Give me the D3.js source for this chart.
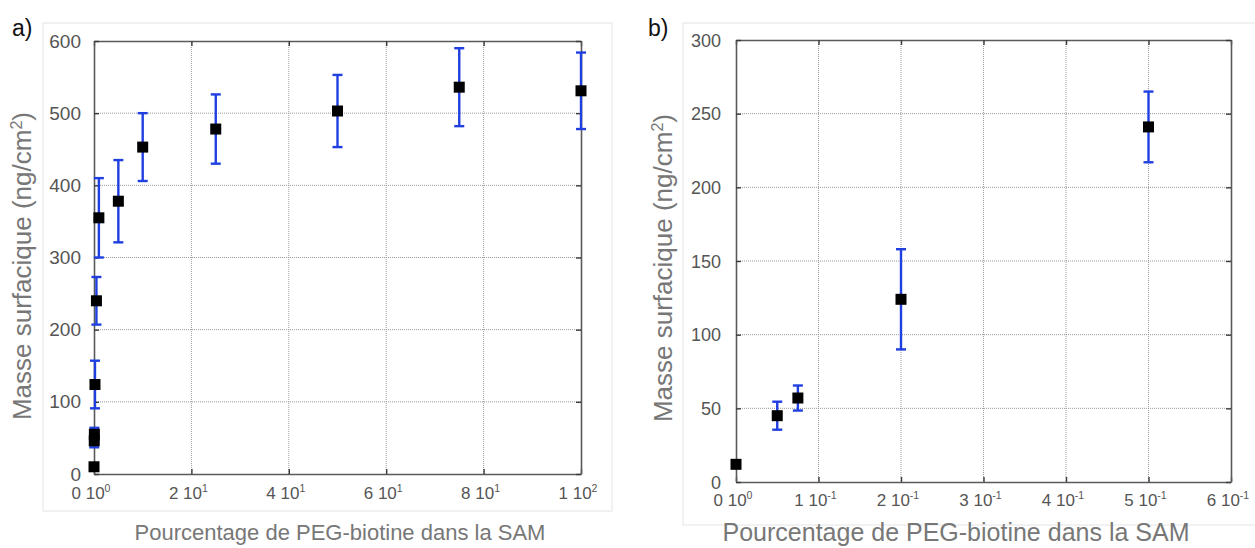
<!DOCTYPE html>
<html>
<head>
<meta charset="utf-8">
<script src="https://cdn.jsdelivr.net/npm/d3@7"></script>
<style>
  html, body { margin: 0; padding: 0; background: #fff; }
  svg { display: block; font-family: "Liberation Sans", Arial, sans-serif; }
</style>
</head>
<body>
<svg id="chart" width="1255" height="548"></svg>
<script>
// ---- Panel a) data ----
const pctA  = [0, 0.05, 0.075, 0.2, 0.5, 1, 5, 10, 25, 50, 75, 100];
const massA = [10, 46, 55, 124, 240, 355, 378, 453, 478, 503, 536, 531];
const errA  = [2, 9, 9, 33, 33, 55, 57, 47, 48, 50, 54, 53];
const xTicksA = [0, 20, 40, 60, 80, 100];
const xTickMantA = ["0", "2", "4", "6", "8", "1"];
const xTickExpA  = ["0", "1", "1", "1", "1", "2"];
const yTicksA = [0, 100, 200, 300, 400, 500, 600];

// ---- Panel b) data ----
const pctB  = [0, 0.05, 0.075, 0.2, 0.5];
const massB = [12, 45, 57, 124, 241];
const errB  = [1, 9.5, 8.5, 34, 24];
const xTicksB = [0, 0.1, 0.2, 0.3, 0.4, 0.5, 0.6];
const xTickMantB = ["0", "1", "2", "3", "4", "5", "6"];
const xTickExpB  = ["0", "-1", "-1", "-1", "-1", "-1", "-1"];
const yTicksB = [0, 50, 100, 150, 200, 250, 300];

const xTitle = "Pourcentage de PEG-biotine dans la SAM";

const svg = d3.select("#chart");

function drawPanel(cfg) {
  const g = svg.append("g");
  // faint frame of the panel image
  g.append("rect")
    .attr("x", cfg.frame[0]).attr("y", cfg.frame[1])
    .attr("width", cfg.frame[2]).attr("height", cfg.frame[3])
    .attr("fill", "none").attr("stroke", "#e4e4e4").attr("stroke-width", 1);

  const x = d3.scaleLinear().domain(cfg.xDomain).range([cfg.left, cfg.right]);
  const y = d3.scaleLinear().domain(cfg.yDomain).range([cfg.bottom, cfg.top]);

  // grid lines (dotted)
  g.selectAll(".gx").data(cfg.xTicks.slice(1, -1)).join("line")
    .attr("x1", d => x(d)).attr("x2", d => x(d))
    .attr("y1", cfg.top).attr("y2", cfg.bottom)
    .attr("stroke", "#9a9a9a").attr("stroke-width", 1).attr("stroke-dasharray", "1,1");
  g.selectAll(".gy").data(cfg.yTicks.slice(1, -1)).join("line")
    .attr("x1", cfg.left).attr("x2", cfg.right)
    .attr("y1", d => y(d)).attr("y2", d => y(d))
    .attr("stroke", "#9a9a9a").attr("stroke-width", 1).attr("stroke-dasharray", "1,1");

  // axes via d3 (inner ticks)
  const xAxisB = d3.axisBottom(x).tickValues(cfg.xTicks).tickSizeInner(-5).tickSizeOuter(0).tickFormat("");
  const xAxisT = d3.axisTop(x).tickValues(cfg.xTicks).tickSizeInner(-5).tickSizeOuter(0).tickFormat("");
  const yAxisL = d3.axisLeft(y).tickValues(cfg.yTicks).tickSizeInner(-5).tickSizeOuter(0).tickFormat("");
  const yAxisR = d3.axisRight(y).tickValues(cfg.yTicks).tickSizeInner(-5).tickSizeOuter(0).tickFormat("");
  [[xAxisB, `translate(0,${cfg.bottom})`], [xAxisT, `translate(0,${cfg.top})`],
   [yAxisL, `translate(${cfg.left},0)`], [yAxisR, `translate(${cfg.right},0)`]].forEach(([ax, tr]) => {
    const a = g.append("g").attr("transform", tr).call(ax);
    a.selectAll("path").attr("stroke", "#5a5a5a").attr("stroke-width", 1.6);
    a.selectAll("line").attr("stroke", "#3a3a3a").attr("stroke-width", 1.4);
  });

  // y tick labels
  g.selectAll(".yl").data(cfg.yTicks).join("text")
    .attr("x", cfg.left - cfg.yLabGap).attr("y", d => y(d) + 6.5)
    .attr("text-anchor", "end").attr("font-size", cfg.tickFont).attr("fill", "#555")
    .text(d => d);

  // x tick labels with superscript exponent
  cfg.xTicks.forEach((d, i) => {
    const t = g.append("text")
      .attr("x", x(d) + cfg.xLabShift).attr("y", cfg.bottom + cfg.xLabDy)
      .attr("text-anchor", "middle").attr("font-size", cfg.xTickFont).attr("fill", "#555");
    t.append("tspan").text(cfg.xMant[i] + " 10");
    t.append("tspan").attr("dy", -7).attr("font-size", cfg.xTickFont * 0.62).text(cfg.xExp[i]);
  });

  // axis titles
  g.append("text")
    .attr("x", cfg.xTitleX).attr("y", cfg.xTitleY)
    .attr("text-anchor", "middle").attr("font-size", cfg.titleFont).attr("fill", "#777")
    .text(xTitle);
  const yt = g.append("text")
    .attr("transform", `translate(${cfg.yTitleX},${cfg.yTitleY}) rotate(-90)`)
    .attr("text-anchor", "middle").attr("font-size", cfg.yTitleFont).attr("fill", "#777");
  yt.append("tspan").text("Masse surfacique (ng/cm");
  yt.append("tspan").attr("dy", -9).attr("font-size", cfg.yTitleFont * 0.62).text("2");
  yt.append("tspan").attr("dy", 9).text(")");

  // panel label
  g.append("text").attr("x", cfg.labelX).attr("y", 36)
    .attr("font-size", 23).attr("fill", "#111").text(cfg.label);

  // error bars
  const capW = 5;
  const pts = cfg.px.map((p, i) => ({ p, m: cfg.mass[i], e: cfg.err[i] }));
  const eb = g.append("g").attr("stroke", "#1f3fe0").attr("stroke-width", 2.4);
  pts.forEach(d => {
    eb.append("line").attr("x1", x(d.p)).attr("x2", x(d.p))
      .attr("y1", y(d.m - d.e)).attr("y2", y(d.m + d.e));
    eb.append("line").attr("x1", x(d.p) - capW).attr("x2", x(d.p) + capW)
      .attr("y1", y(d.m - d.e)).attr("y2", y(d.m - d.e));
    eb.append("line").attr("x1", x(d.p) - capW).attr("x2", x(d.p) + capW)
      .attr("y1", y(d.m + d.e)).attr("y2", y(d.m + d.e));
  });
  // square markers
  const s = 11;
  g.selectAll(".pt").data(pts).join("rect")
    .attr("x", d => x(d.p) - s / 2).attr("y", d => y(d.m) - s / 2)
    .attr("width", s).attr("height", s).attr("fill", "#000");
}

drawPanel({
  frame: [43, 23, 569, 488],
  left: 94, right: 581, top: 41, bottom: 474,
  xDomain: [0, 100], yDomain: [0, 600],
  xTicks: xTicksA, yTicks: yTicksA, xMant: xTickMantA, xExp: xTickExpA,
  px: pctA, mass: massA, err: errA,
  tickFont: 19, yLabGap: 13, xTickFont: 17, xLabShift: -3, xLabDy: 25,
  titleFont: 22, yTitleFont: 26,
  xTitleX: 340, xTitleY: 540, yTitleX: 31, yTitleY: 266,
  label: "a)", labelX: 12
});

drawPanel({
  frame: [683, 23, 590, 502],
  left: 736, right: 1231, top: 40, bottom: 482,
  xDomain: [0, 0.6], yDomain: [0, 300],
  xTicks: xTicksB, yTicks: yTicksB, xMant: xTickMantB, xExp: xTickExpB,
  px: pctB, mass: massB, err: errB,
  tickFont: 18, yLabGap: 15, xTickFont: 17, xLabShift: -3, xLabDy: 24,
  titleFont: 25, yTitleFont: 26,
  xTitleX: 956, xTitleY: 541, yTitleX: 672, yTitleY: 268,
  label: "b)", labelX: 648
});
</script>
</body>
</html>
